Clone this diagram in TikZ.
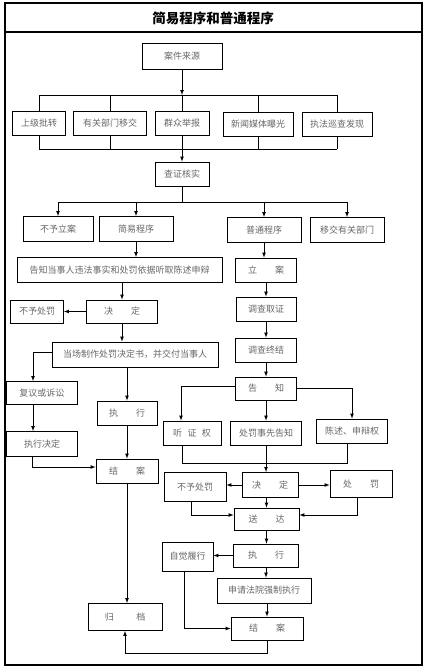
\documentclass[tikz,border=0pt]{standalone}
\usepackage{fontspec}
\newfontfamily\cjk{Noto Sans CJK SC}
\usepackage{tikz}
\usetikzlibrary{calc}

\tikzset{
  box/.style={draw, line width=0.8pt, inner sep=0pt, text=black!60,
    font=\cjk\fontsize{9}{10}\selectfont},
  conn/.style={draw, line width=0.7pt},
  flow/.style={conn, -latex},
}

\begin{document}
\begin{tikzpicture}[x=1pt,y=-1pt]
        \useasboundingbox (0,0) rectangle (427,669);
        % Frame and title
        \draw[line width=1.1pt] (5,3) rectangle (422,665);
        \draw[line width=1.1pt] (5,32) -- (422,32);
        \node (title) at (213,18) {\cjk\bfseries\fontsize{13.5}{15}\selectfont 简易程序和普通程序};

        % Sources
        \node[box, minimum width=80, minimum height=26] (src) at (182,56) {案件来源};
        \node[box, minimum width=53, minimum height=24] (sj) at (39,123) {上级批转};
        \node[box, minimum width=73, minimum height=24] (yg) at (110,123) {有关部门移交};
        \node[box, minimum width=54, minimum height=24] (qz) at (182,123) {群众举报};
        \node[box, minimum width=70, minimum height=24] (xw) at (258,124) {新闻媒体曝光};
        \node[box, minimum width=70, minimum height=24] (zf) at (337,124) {执法巡查发现};
        \coordinate (topbus) at (182,95);
        \coordinate (midbus) at (182,149);
        \draw[flow] (src.south) -- (topbus);
        \draw[conn] (sj.north |- topbus) -- (zf.north |- topbus);
        \draw[conn] (sj.south |- midbus) -- (zf.south |- midbus);
        \foreach \n in {sj,yg,qz,xw,zf}{
          \draw[conn] (\n.north |- topbus) -- (\n.north);
          \draw[conn] (\n.south) -- (\n.south |- midbus);
        }

        % Check and the four ways
        \node[box, minimum width=54, minimum height=24] (check) at (182,174) {查证核实};
        \draw[flow] (midbus) -- (check.north);
        \node[box, minimum width=70, minimum height=25] (byl) at (58,229) {不予立案};
        \node[box, minimum width=74, minimum height=25] (simple) at (136,229) {简易程序};
        \node[box, minimum width=74, minimum height=25] (normal) at (264,230) {普通程序};
        \node[box, minimum width=74, minimum height=25] (yjbm) at (347,230) {移交有关部门};
        \coordinate (chkbus) at (182,202);
        \draw[conn] (check.south) -- (chkbus);
        \draw[conn] (byl.north |- chkbus) -- (yjbm.north |- chkbus);
        \foreach \n in {byl,simple,normal,yjbm}
          \draw[flow] (\n.north |- chkbus) -- (\n.north);

        % Simple procedure
        \node[box, minimum width=205, minimum height=25] (notify) at (119.5,270) {告知当事人违法事实和处罚依据听取陈述申辩};
        \node[box, minimum width=71, minimum height=23] (decA) at (122,311.5) {决\hspace{2em}定};
        \node[box, minimum width=53, minimum height=23] (nopunA) at (37,311.5) {不予处罚};
        \node[box, minimum width=166, minimum height=25] (onsite) at (135,354.5) {当场制作处罚决定书，并交付当事人};
        \node[box, minimum width=71, minimum height=23] (review) at (42,393) {复议或诉讼};
        \node[box, minimum width=60, minimum height=24] (execA) at (127,413) {执\hspace{2em}行};
        \node[box, minimum width=71, minimum height=25] (execDec) at (42,444) {执行决定};
        \node[box, minimum width=62, minimum height=24] (closeA) at (127,471) {结\hspace{2em}案};
        \node[box, minimum width=74, minimum height=27] (archive) at (125,617) {归\hspace{2.5em}档};
        \draw[flow] (simple.south) -- (simple.south |- notify.north);
        \draw[flow] (decA.north |- notify.south) -- (decA.north);
        \draw[flow] (decA.west) -- (nopunA.east);
        \draw[flow] (decA.south) -- (decA.south |- onsite.north);
        \draw[flow] ([yshift=2pt]onsite.west) -| ([xshift=-9pt]review.north);
        \draw[flow] (execA.north |- onsite.south) -- (execA.north);
        \draw[flow] ([xshift=-9pt]review.south) -- ([xshift=-9pt]execDec.north);
        \draw[flow] ([xshift=-10pt]execDec.south) |- ([yshift=4pt]closeA.west);
        \draw[flow] (execA.south) -- (closeA.north);
        \draw[flow] (closeA.south) -- (closeA.south |- archive.north);

        % Normal procedure
        \node[box, minimum width=61, minimum height=24] (lian) at (266,270) {立\hspace{2em}案};
        \node[box, minimum width=60, minimum height=24] (dcqz) at (266,309) {调查取证};
        \node[box, minimum width=61, minimum height=24] (dczj) at (266,350) {调查终结};
        \node[box, minimum width=61, minimum height=23] (gz) at (266,388.5) {告\hspace{2em}知};
        \node[box, minimum width=58, minimum height=24] (tzq) at (192,433) {听\hspace{0.6em}证\hspace{0.6em}权};
        \node[box, minimum width=71, minimum height=24] (sxgz) at (266,433) {处罚事先告知};
        \node[box, minimum width=71, minimum height=24] (csq) at (352,431) {陈述、申辩权};
        \draw[flow] (normal.south) -- (normal.south |- lian.north);
        \draw[flow] (lian.south) -- (dcqz.north);
        \draw[flow] (dcqz.south) -- (dczj.north);
        \draw[flow] (dczj.south) -- (gz.north);
        \draw[flow] ([yshift=2pt]gz.west) -| ([xshift=-11pt]tzq.north);
        \draw[flow] (gz.south) -- (sxgz.north);
        \draw[flow] (gz.east) -| (csq.north);
        \coordinate (jbus) at (266,463);
        \draw[conn] ([xshift=-10pt]tzq.south) |- (jbus);
        \draw[conn] ([xshift=-5pt]csq.south) |- (jbus);

        % Decision and delivery
        \node[box, minimum width=56, minimum height=25] (decB) at (270,485) {决\hspace{2em}定};
        \node[box, minimum width=62, minimum height=29] (nopunB) at (195,487) {不予处罚};
        \node[box, minimum width=62, minimum height=27] (punish) at (361,484) {处\hspace{2em}罚};
        \node[box, minimum width=65, minimum height=22] (sd) at (266.5,519) {送\hspace{2em}达};
        \draw[flow] (sxgz.south) -- (sxgz.south |- decB.north);
        \draw[flow] (decB.west) -- (decB.west -| nopunB.east);
        \draw[flow] (decB.east) -- (decB.east -| punish.west);
        \draw[flow] (sd.north |- decB.south) -- (sd.north);
        \draw[flow] ([xshift=-4pt]nopunB.south) |- ([yshift=4pt]sd.west);
        \draw[flow] ([xshift=-4pt]punish.south) |- ([yshift=4pt]sd.east);

        % Execution and closing
        \node[box, minimum width=65, minimum height=23] (execB) at (266,555.5) {执\hspace{2em}行};
        \node[box, minimum width=51, minimum height=29] (zjlx) at (187.5,556.5) {自觉履行};
        \node[box, minimum width=94, minimum height=25] (qzzx) at (264,590.5) {申请法院强制执行};
        \node[box, minimum width=72, minimum height=23] (closeB) at (267,628.5) {结\hspace{2em}案};
        \draw[flow] (sd.south) -- (sd.south |- execB.north);
        \draw[flow] (execB.west) -- (execB.west -| zjlx.east);
        \draw[flow] (execB.south) -- (execB.south |- qzzx.north);
        \draw[flow] (qzzx.south -| closeB) -- (closeB.north);
        \draw[flow] ([xshift=-3pt]zjlx.south) |- (closeB.west);
        \draw[flow] (closeB.south) -- ++(0,13) -| (archive.south);
\end{tikzpicture}
\end{document}
